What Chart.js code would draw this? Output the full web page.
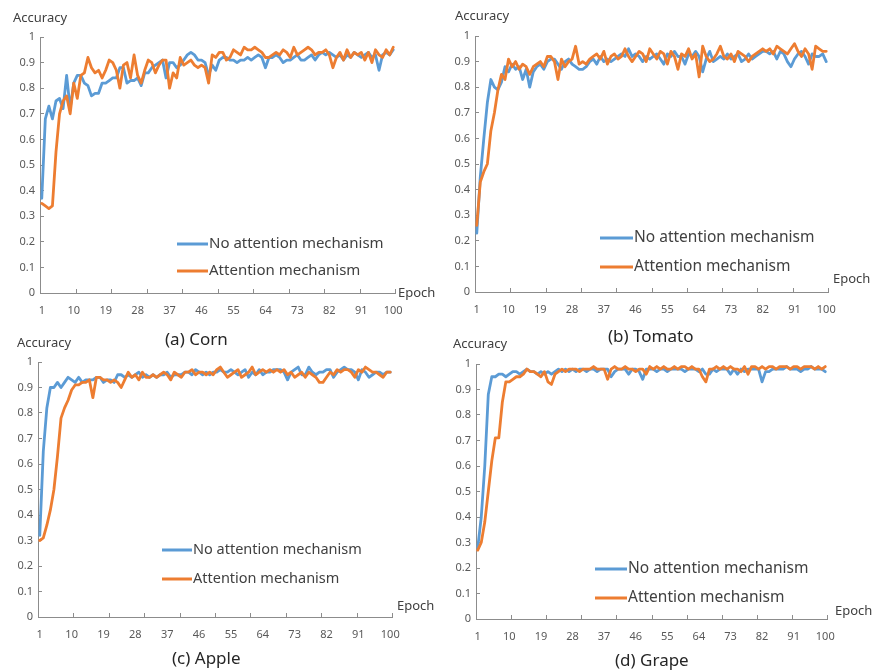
<!DOCTYPE html>
<html>
<head>
<meta charset="utf-8">
<script src="https://cdn.jsdelivr.net/npm/chart.js@4"></script>
<style>
  body { margin: 0; background: #fff; }
  #wrap { position: relative; width: 875px; height: 672px; overflow: hidden; font-family: "Noto Sans", sans-serif; color: #404040; }
  canvas { position: absolute; }
  .lbl { position: absolute; font-size: 13px; line-height: 13px; white-space: nowrap; }
  .cap { position: absolute; font-size: 17px; line-height: 17px; white-space: nowrap; color: #262626; }
</style>
</head>
<body>
<div id="wrap">
  <canvas id="cA" width="437" height="330" style="left:0;top:0"></canvas>
  <canvas id="cB" width="438" height="330" style="left:437px;top:0"></canvas>
  <canvas id="cC" width="437" height="342" style="left:0;top:330px"></canvas>
  <canvas id="cD" width="438" height="342" style="left:437px;top:330px"></canvas>

  <div class="lbl" style="left:13px;top:11px">Accuracy</div>
  <div class="lbl" style="left:455px;top:9px">Accuracy</div>
  <div class="lbl" style="left:17px;top:336px">Accuracy</div>
  <div class="lbl" style="left:453px;top:337px">Accuracy</div>

  <div class="lbl" style="left:398px;top:286px">Epoch</div>
  <div class="lbl" style="left:833px;top:272px">Epoch</div>
  <div class="lbl" style="left:397px;top:599px">Epoch</div>
  <div class="lbl" style="left:835px;top:604px">Epoch</div>

  <div class="cap" style="left:165px;top:330px">(a) Corn</div>
  <div class="cap" style="left:608px;top:327px">(b) Tomato</div>
  <div class="cap" style="left:172px;top:649px">(c) Apple</div>
  <div class="cap" style="left:615px;top:651px">(d) Grape</div>
</div>

<script>
// epochs 1..100, labels shown every 9 epochs like the Excel original
const xLabels = [1, 10, 19, 28, 37, 46, 55, 64, 73, 82, 91, 100];
const xMarks = [10.5, 20.5, 30.5, 40.5, 50.5, 60.5, 70.5, 80.5, 90.5, 100.5];
const seriesNames = ['No attention mechanism', 'Attention mechanism'];

const cornNoAtt = [
  0.37, 0.68, 0.73, 0.68, 0.75, 0.76, 0.72, 0.85, 0.72, 0.82,
  0.85, 0.85, 0.82, 0.81, 0.77, 0.78, 0.78, 0.82, 0.82, 0.83,
  0.84, 0.84, 0.88, 0.88, 0.82, 0.83, 0.83, 0.84, 0.81, 0.86,
  0.86, 0.88, 0.89, 0.90, 0.91, 0.84, 0.90, 0.90, 0.88, 0.89,
  0.91, 0.93, 0.94, 0.93, 0.91, 0.91, 0.90, 0.85, 0.89, 0.87,
  0.91, 0.92, 0.92, 0.91, 0.91, 0.90, 0.91, 0.91, 0.92, 0.91,
  0.92, 0.93, 0.92, 0.88, 0.92, 0.92, 0.93, 0.92, 0.90, 0.91,
  0.91, 0.92, 0.93, 0.91, 0.91, 0.92, 0.93, 0.91, 0.93, 0.94,
  0.93, 0.94, 0.93, 0.92, 0.93, 0.91, 0.93, 0.92, 0.94, 0.93,
  0.92, 0.93, 0.94, 0.92, 0.93, 0.87, 0.93, 0.94, 0.93, 0.95
];
const cornAtt = [
  0.35, 0.34, 0.33, 0.34, 0.55, 0.70, 0.75, 0.77, 0.70, 0.82,
  0.76, 0.85, 0.86, 0.92, 0.88, 0.86, 0.87, 0.84, 0.87, 0.91,
  0.90, 0.87, 0.80, 0.89, 0.90, 0.84, 0.93, 0.85, 0.82, 0.87,
  0.91, 0.90, 0.86, 0.89, 0.91, 0.91, 0.80, 0.86, 0.84, 0.92,
  0.89, 0.90, 0.91, 0.89, 0.88, 0.89, 0.88, 0.82, 0.93, 0.92,
  0.94, 0.94, 0.91, 0.92, 0.95, 0.94, 0.93, 0.96, 0.95, 0.95,
  0.96, 0.95, 0.94, 0.92, 0.92, 0.93, 0.94, 0.93, 0.95, 0.94,
  0.92, 0.96, 0.93, 0.94, 0.95, 0.96, 0.95, 0.93, 0.94, 0.94,
  0.95, 0.93, 0.88, 0.92, 0.94, 0.91, 0.95, 0.92, 0.94, 0.93,
  0.94, 0.91, 0.94, 0.90, 0.95, 0.93, 0.92, 0.95, 0.93, 0.96
];
const tomatoNoAtt = [
  0.23, 0.45, 0.60, 0.74, 0.83, 0.80, 0.79, 0.82, 0.88, 0.86,
  0.89, 0.87, 0.88, 0.83, 0.87, 0.80, 0.86, 0.88, 0.89, 0.87,
  0.90, 0.91, 0.91, 0.89, 0.87, 0.90, 0.91, 0.89, 0.88, 0.87,
  0.87, 0.88, 0.90, 0.91, 0.89, 0.92, 0.90, 0.91, 0.90, 0.91,
  0.92, 0.93, 0.92, 0.95, 0.92, 0.93, 0.92, 0.90, 0.92, 0.91,
  0.92, 0.93, 0.91, 0.89, 0.93, 0.92, 0.94, 0.92, 0.92, 0.89,
  0.93, 0.92, 0.94, 0.92, 0.86, 0.91, 0.94, 0.90, 0.91, 0.92,
  0.91, 0.93, 0.91, 0.92, 0.93, 0.90, 0.91, 0.93, 0.91, 0.92,
  0.93, 0.94, 0.94, 0.93, 0.94, 0.91, 0.94, 0.93, 0.90, 0.88,
  0.91, 0.93, 0.94, 0.92, 0.89, 0.93, 0.92, 0.92, 0.93, 0.90
];
const tomatoAtt = [
  0.26, 0.43, 0.47, 0.50, 0.63, 0.70, 0.79, 0.85, 0.83, 0.91,
  0.88, 0.90, 0.87, 0.89, 0.88, 0.85, 0.88, 0.89, 0.90, 0.88,
  0.92, 0.92, 0.90, 0.83, 0.91, 0.88, 0.90, 0.91, 0.96, 0.89,
  0.90, 0.89, 0.91, 0.92, 0.93, 0.91, 0.94, 0.89, 0.92, 0.93,
  0.91, 0.92, 0.95, 0.92, 0.90, 0.92, 0.94, 0.93, 0.90, 0.95,
  0.93, 0.91, 0.94, 0.93, 0.89, 0.94, 0.92, 0.87, 0.93, 0.92,
  0.95, 0.91, 0.93, 0.84, 0.96, 0.92, 0.90, 0.91, 0.93, 0.96,
  0.92, 0.91, 0.93, 0.90, 0.94, 0.93, 0.92, 0.90, 0.92, 0.93,
  0.94, 0.95, 0.94, 0.95, 0.93, 0.96, 0.95, 0.94, 0.93, 0.95,
  0.97, 0.94, 0.92, 0.95, 0.93, 0.87, 0.96, 0.95, 0.94, 0.94
];
const appleNoAtt = [
  0.32, 0.65, 0.82, 0.90, 0.90, 0.92, 0.90, 0.92, 0.94, 0.93,
  0.92, 0.94, 0.92, 0.93, 0.93, 0.93, 0.94, 0.94, 0.92, 0.93,
  0.93, 0.92, 0.95, 0.95, 0.94, 0.95, 0.94, 0.95, 0.96, 0.94,
  0.95, 0.94, 0.95, 0.94, 0.95, 0.95, 0.96, 0.94, 0.95, 0.95,
  0.95, 0.96, 0.96, 0.95, 0.97, 0.96, 0.95, 0.96, 0.95, 0.96,
  0.96, 0.97, 0.96, 0.96, 0.97, 0.96, 0.95, 0.96, 0.97, 0.94,
  0.96, 0.95, 0.97, 0.95, 0.96, 0.96, 0.97, 0.97, 0.97, 0.96,
  0.93, 0.96, 0.97, 0.98, 0.95, 0.95, 0.98, 0.96, 0.95, 0.96,
  0.96, 0.97, 0.97, 0.94, 0.96, 0.97, 0.98, 0.97, 0.97, 0.96,
  0.93, 0.97, 0.96, 0.94, 0.95, 0.96, 0.96, 0.95, 0.96, 0.96
];
const appleAtt = [
  0.30, 0.31, 0.36, 0.42, 0.50, 0.63, 0.78, 0.82, 0.85, 0.89,
  0.91, 0.91, 0.92, 0.92, 0.93, 0.86, 0.94, 0.94, 0.93, 0.93,
  0.92, 0.93, 0.92, 0.90, 0.93, 0.96, 0.94, 0.95, 0.93, 0.96,
  0.94, 0.94, 0.95, 0.94, 0.95, 0.96, 0.95, 0.93, 0.96, 0.95,
  0.94, 0.96, 0.96, 0.97, 0.95, 0.96, 0.96, 0.95, 0.96, 0.95,
  0.97, 0.98, 0.96, 0.94, 0.95, 0.96, 0.97, 0.94, 0.95, 0.96,
  0.98, 0.95, 0.96, 0.97, 0.96, 0.97, 0.96, 0.97, 0.96, 0.97,
  0.95, 0.96, 0.94, 0.95, 0.96, 0.94, 0.96, 0.95, 0.94, 0.92,
  0.92, 0.94, 0.96, 0.95, 0.97, 0.96, 0.97, 0.97, 0.96, 0.94,
  0.97, 0.96, 0.98, 0.97, 0.96, 0.96, 0.95, 0.94, 0.96, 0.96
];
const grapeNoAtt = [
  0.28, 0.40, 0.60, 0.88, 0.95, 0.95, 0.96, 0.96, 0.95, 0.96,
  0.97, 0.97, 0.96, 0.97, 0.98, 0.97, 0.97, 0.96, 0.97, 0.96,
  0.97, 0.96, 0.97, 0.98, 0.97, 0.98, 0.97, 0.98, 0.97, 0.98,
  0.98, 0.97, 0.98, 0.98, 0.97, 0.98, 0.98, 0.98, 0.95, 0.97,
  0.98, 0.98, 0.98, 0.96, 0.98, 0.98, 0.97, 0.94, 0.98, 0.98,
  0.98, 0.97, 0.98, 0.98, 0.97, 0.98, 0.98, 0.98, 0.98, 0.97,
  0.98, 0.98, 0.98, 0.97, 0.98, 0.96, 0.96, 0.98, 0.97, 0.98,
  0.98, 0.98, 0.96, 0.98, 0.96, 0.98, 0.97, 0.98, 0.98, 0.98,
  0.98, 0.93, 0.97, 0.97, 0.98, 0.98, 0.98, 0.98, 0.99, 0.98,
  0.98, 0.98, 0.97, 0.98, 0.98, 0.99, 0.98, 0.98, 0.98, 0.97
];
const grapeAtt = [
  0.27, 0.30, 0.38, 0.50, 0.62, 0.71, 0.71, 0.85, 0.93, 0.93,
  0.94, 0.95, 0.95, 0.96, 0.98, 0.97, 0.97, 0.96, 0.95, 0.97,
  0.93, 0.92, 0.96, 0.97, 0.98, 0.97, 0.98, 0.98, 0.98, 0.97,
  0.98, 0.98, 0.98, 0.99, 0.98, 0.98, 0.98, 0.94, 0.98, 0.99,
  0.98, 0.98, 0.99, 0.98, 0.98, 0.97, 0.98, 0.98, 0.96, 0.99,
  0.98, 0.99, 0.98, 0.99, 0.98, 0.98, 0.99, 0.98, 0.99, 0.99,
  0.98, 0.99, 0.98, 0.98, 0.95, 0.93, 0.98, 0.98, 0.99, 0.98,
  0.99, 0.98, 0.99, 0.98, 0.98, 0.97, 0.99, 0.96, 0.99, 0.99,
  0.98, 0.99, 0.98, 0.99, 0.99, 0.98, 0.99, 0.99, 0.99, 0.98,
  0.99, 0.99, 0.98, 0.99, 0.99, 0.99, 0.98, 0.99, 0.98, 0.99
];

const BLUE = '#5B9BD5';
const ORANGE = '#ED7D31';
const AXIS = '#8c8c8c';
const TICK_TXT = '#595959';

Chart.defaults.font.family = '"Noto Sans", sans-serif';

// legend drawn inside the plot, like the Excel chart
const inlineLegend = {
  id: 'inlineLegend',
  afterDraw(chart, args, o) {
    const ctx = chart.ctx;
    ctx.save();
    ctx.font = o.size + 'px "Noto Sans", sans-serif';
    ctx.textBaseline = 'middle';
    chart.data.datasets.forEach((ds, i) => {
      const y = o.y + i * o.gap;
      ctx.strokeStyle = ds.borderColor;
      ctx.lineWidth = 3;
      ctx.beginPath();
      ctx.moveTo(o.x, y);
      ctx.lineTo(o.x + o.len, y);
      ctx.stroke();
      ctx.fillStyle = '#404040';
      ctx.fillText(ds.label, o.x + o.len + 1, y);
    });
    ctx.restore();
  }
};

// small upward tick marks on the category axis
const xTickMarks = {
  id: 'xTickMarks',
  afterDraw(chart) {
    const xs = chart.scales.x, ctx = chart.ctx;
    const y0 = chart.chartArea.bottom;
    ctx.save();
    ctx.strokeStyle = AXIS;
    ctx.lineWidth = 1;
    ctx.beginPath();
    xMarks.forEach(v => {
      const px = Math.round(xs.getPixelForValue(v)) + 0.5;
      ctx.moveTo(px, y0);
      ctx.lineTo(px, y0 - 4);
    });
    ctx.stroke();
    ctx.restore();
  }
};

function makePanel(id, noAtt, att, area, legend) {
  const canvas = document.getElementById(id);
  const W = canvas.width, H = canvas.height;
  const series = (vals) => vals.map((v, i) => ({ x: i + 1, y: v }));
  const line = { borderWidth: 2.8, pointRadius: 0, tension: 0, borderJoinStyle: 'round', borderCapStyle: 'round' };
  return new Chart(canvas, {
    type: 'line',
    data: {
      datasets: [
        Object.assign({ label: seriesNames[0], data: series(noAtt), borderColor: BLUE, order: 1 }, line),
        Object.assign({ label: seriesNames[1], data: series(att), borderColor: ORANGE, order: 0 }, line)
      ]
    },
    options: {
      responsive: false,
      animation: false,
      layout: { padding: { left: 0, top: area.top, right: W - area.right, bottom: 0 } },
      plugins: {
        legend: { display: false },
        tooltip: { enabled: false },
        inlineLegend: legend
      },
      scales: {
        x: {
          type: 'linear',
          min: 0.5,
          max: 100.5,
          afterBuildTicks: s => { s.ticks = xLabels.map(v => ({ value: v })); },
          afterFit: s => { s.height = H - area.bottom; },
          grid: { display: false },
          border: { display: true, color: AXIS, width: 1 },
          ticks: { autoSkip: false, maxRotation: 0, padding: 3, color: TICK_TXT, font: { size: 11 } }
        },
        y: {
          min: 0,
          max: 1,
          afterFit: s => { s.width = area.left; },
          grid: { drawOnChartArea: false, tickLength: -4, color: AXIS },
          border: { display: true, color: AXIS, width: 1 },
          ticks: {
            stepSize: 0.1,
            padding: 9,
            color: TICK_TXT,
            font: { size: 11 },
            callback: v => String(+v.toFixed(1))
          }
        }
      }
    },
    plugins: [inlineLegend, xTickMarks]
  });
}

makePanel('cA', cornNoAtt, cornAtt,
  { left: 40, top: 37, right: 395, bottom: 293 },
  { x: 177, y: 244, gap: 27, len: 31, size: 15 });
makePanel('cB', tomatoNoAtt, tomatoAtt,
  { left: 38, top: 36, right: 391, bottom: 292 },
  { x: 163, y: 238, gap: 29, len: 33, size: 15.5 });
makePanel('cC', appleNoAtt, appleAtt,
  { left: 38, top: 32, right: 392, bottom: 287 },
  { x: 162, y: 220, gap: 29, len: 30, size: 14.5 });
makePanel('cD', grapeNoAtt, grapeAtt,
  { left: 39, top: 34, right: 390, bottom: 289 },
  { x: 158, y: 239, gap: 29, len: 32, size: 15.5 });
</script>
</body>
</html>
